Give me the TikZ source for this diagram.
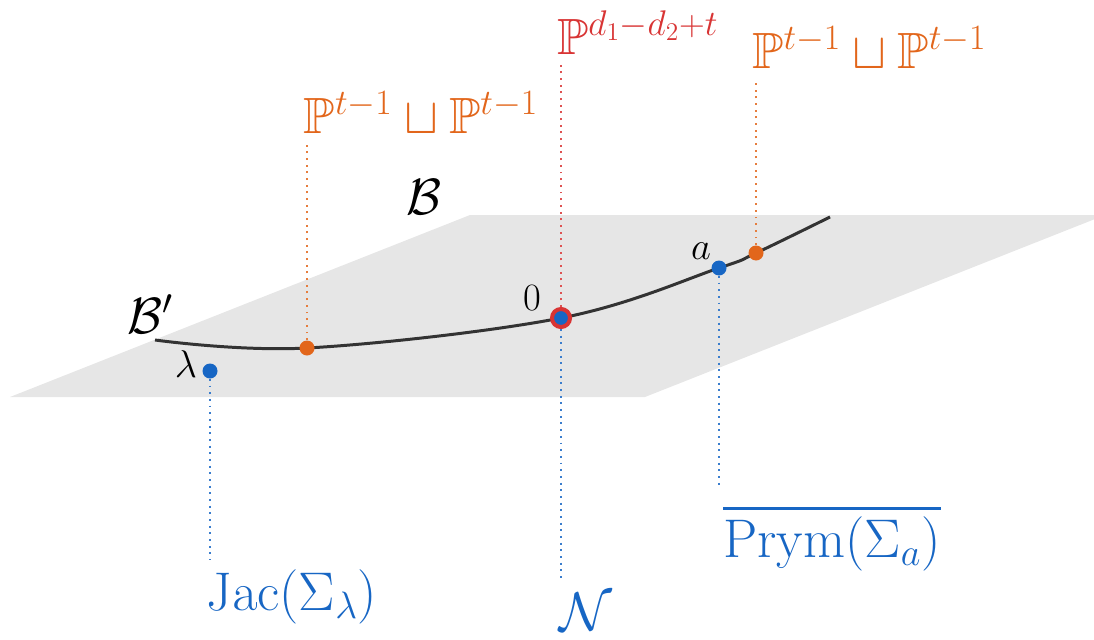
\RequirePackage{fix-cm}
\documentclass[tikz,border=0pt]{standalone}
\usepackage{amsmath, amssymb}
\usepackage{tikz}
\usetikzlibrary{positioning}

\definecolor{fibreblue}{HTML}{1766C4}
\definecolor{fibreorange}{HTML}{E2661B}
\definecolor{fibrered}{HTML}{D83434}
\definecolor{planegray}{HTML}{E6E6E6}
\definecolor{curvegray}{HTML}{333333}

\begin{document}
\begin{tikzpicture}[
        x=0.02cm, y=-0.02cm,
        biglabel/.style={font=\fontsize{29}{34}\selectfont, inner sep=0pt},
        fibrelabel/.style={font=\fontsize{31}{36}\selectfont, inner sep=0pt, text=fibreblue, anchor=base},
        smalllabel/.style={font=\fontsize{22}{26}\selectfont, inner sep=0pt},
        dot/.style={circle, inner sep=0pt, minimum size=0.3cm},
        fibre/.style={line width=1.1pt, dash pattern=on 1.1pt off 2.7pt}
    ]

    \useasboundingbox (0,0) rectangle (1094,639);

    % base and the curve in it
    \fill[planegray] (10,397) -- (470,215) -- (1094,215) -- (1094,219.4) -- (645,397) -- cycle;
    \draw[curvegray, line width=1.7pt] plot[smooth, tension=0.6] coordinates {(155,340) (307,348) (561,318) (719,268) (756,253) (830,217)};

    \node[biglabel] (base) at (424,197) {$\mathcal{B}$};
    \node[biglabel] (sub) at (150,314) {$\mathcal{B}'$};

    % points
    \node[dot, fill=fibreblue] (lam) at (210,371) {};
    \node[dot, fill=fibreorange] (left) at (307,348) {};
    \node[circle, draw=fibrered, line width=2.3pt, fill=fibreblue, inner sep=0pt, minimum size=0.36cm] (zero) at (561,318) {};
    \node[dot, fill=fibreblue] (apt) at (719,268) {};
    \node[dot, fill=fibreorange] (right) at (756,253) {};

    \node[smalllabel] (laml) at (186,364) {$\lambda$};
    \node[smalllabel] (zerol) at (532,298) {$0$};
    \node[smalllabel] (al) at (701,251) {$a$};

    % fibres
    \node[biglabel, text=fibreorange, anchor=base] (leftfib) at (421,133) {$\mathbb{P}^{t-1}\sqcup\mathbb{P}^{t-1}$};
    \node[biglabel, text=fibrered, anchor=base west] (zerofib) at (557,54) {$\mathbb{P}^{d_1-d_2+t}$};
    \node[biglabel, text=fibreorange, anchor=base west] (rightfib) at (752,68) {$\mathbb{P}^{t-1}\sqcup\mathbb{P}^{t-1}$};
    \node[fibrelabel] (jac) at (292,610) {$\mathrm{Jac}(\Sigma_\lambda)$};
    \node[fibrelabel] (nilp) at (586,630) {$\mathcal{N}$};
    \node[fibrelabel] (prym) at (832,557) {$\overline{\mathrm{Prym}(\Sigma_a)}$};

    \coordinate (lamend) at (210,560);
    \coordinate (leftend) at (307,140);
    \coordinate (zeroup) at (561,65);
    \coordinate (zerodown) at (561,582);
    \coordinate (aend) at (719,488);
    \coordinate (rightend) at (756,82);

    \draw[fibre, fibreblue!85] (lam) -- (lamend);
    \draw[fibre, fibreorange!85] (left) -- (leftend);
    \draw[fibre, fibrered!85] (zero) -- (zeroup);
    \draw[fibre, fibreblue!85] (zero) -- (zerodown);
    \draw[fibre, fibreblue!85] (apt) -- (aend);
    \draw[fibre, fibreorange!85] (right) -- (rightend);

\end{tikzpicture}
\end{document}
